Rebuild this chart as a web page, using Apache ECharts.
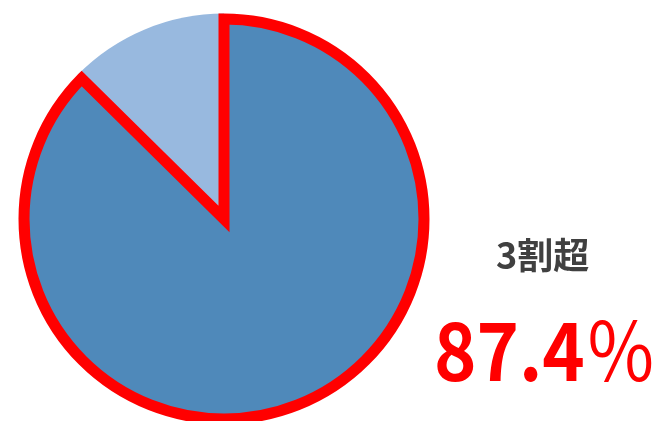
<!DOCTYPE html>
<html><head><meta charset="utf-8">
<script src="https://cdn.jsdelivr.net/npm/echarts@6/dist/echarts.min.js"></script>
<style>html,body{margin:0;padding:0;background:#fff}#c{width:652px;height:421px}</style>
</head><body><div id="c"></div>
<script>
const categories = ['3割超', 'その他'];
const values = [87.4, 12.6];
const labelTitle = '3割超';
const labelNumber = '87.4';
const labelUnit = '％';

const chart = echarts.init(document.getElementById('c'), null, {renderer: 'canvas'});
const center = [224, 219];
chart.setOption({
  animation: false,
  series: [
    {
      type: 'pie', z: 1, silent: true,
      center: center, radius: 205.5, startAngle: 90, clockwise: true,
      label: {show: false}, labelLine: {show: false},
      data: [
        {name: categories[0], value: values[0], itemStyle: {color: 'rgba(0,0,0,0)'}},
        {name: categories[1], value: values[1], itemStyle: {color: '#98B9DF'}}
      ]
    },
    {
      type: 'pie', z: 2, silent: true,
      center: center, radius: 200, startAngle: 90, clockwise: true,
      label: {show: false}, labelLine: {show: false},
      data: [
        {name: categories[0], value: values[0], itemStyle: {color: '#4F89BA', borderColor: '#FF0000', borderWidth: 11, borderJoin: 'miter', borderMiterLimit: 20}},
        {name: categories[1], value: values[1], itemStyle: {color: 'rgba(0,0,0,0)', borderWidth: 0}}
      ]
    }
  ],
  graphic: [
    {type: 'text', x: 496, y: 237, style: {text: labelTitle, font: 'bold 36px "Noto Sans CJK JP"', fill: '#404040'}},
    {type: 'text', x: 434, y: 311, scaleX: 0.9, originX: 0, originY: 0,
     style: {
       text: '{d|' + labelNumber + '}{p|' + labelUnit + '}',
       rich: {
         d: {fontFamily: '"Noto Sans CJK JP"', fontWeight: 'bold', fontSize: 80, fill: '#FF0000', lineHeight: 80},
         p: {fontFamily: '"Noto Sans CJK JP"', fontWeight: 'normal', fontSize: 80, fill: '#FF0000', lineHeight: 80}
       }
     }}
  ]
});
</script></body></html>
